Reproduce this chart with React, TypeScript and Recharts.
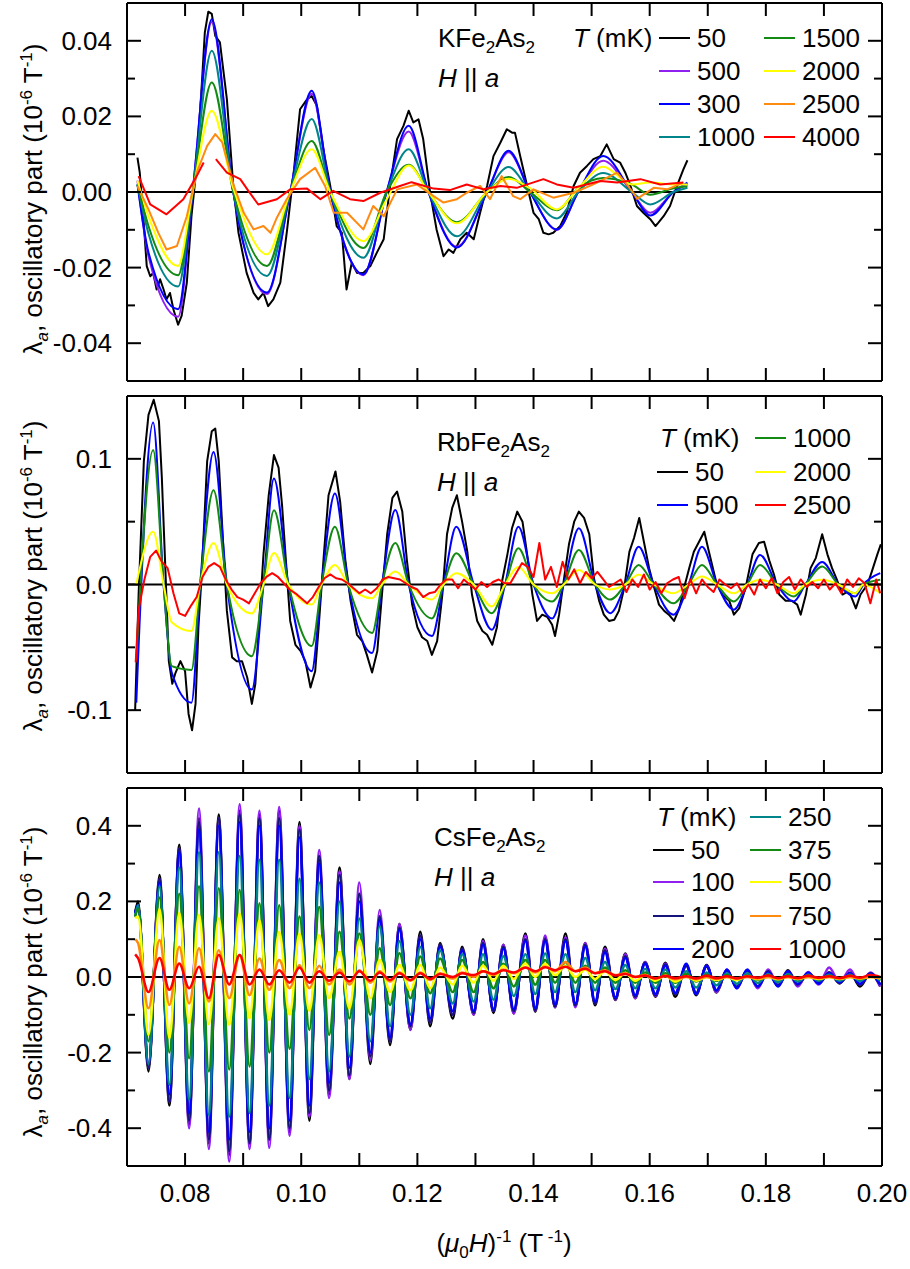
import React from 'react';
import { LineChart, Line, XAxis, YAxis, ReferenceLine } from 'recharts';

const FONT = '"Liberation Sans", Arial, Helvetica, sans-serif';

// shared x axis: (mu0 H)^-1 in 1/T
const xTicks = [0.07, 0.08, 0.09, 0.1, 0.11, 0.12, 0.13, 0.14, 0.15, 0.16, 0.17, 0.18, 0.19, 0.2];
const xLabels = [0.08, 0.1, 0.12, 0.14, 0.16, 0.18, 0.2];

// ---------- KFe2As2 ----------
const kYTicks = [-0.05, -0.04, -0.03, -0.02, -0.01, 0, 0.01, 0.02, 0.03, 0.04, 0.05];
const kYLabels = [-0.04, -0.02, 0, 0.02, 0.04];
const kX = [0.0718, 0.0737, 0.0788, 0.0813, 0.0846, 0.0883, 0.0941, 0.0981, 0.1018, 0.105, 0.1107, 0.1147, 0.1185, 0.1219, 0.1268, 0.132, 0.1357, 0.1394, 0.144, 0.1477, 0.152, 0.1569, 0.1601, 0.1641, 0.1665];
const k50: [number, number][] = [
  [0.0718, 0.0091], [0.0722, 0.0051], [0.0728, -0.0064], [0.0734, -0.0196], [0.074, -0.0223], [0.0745, -0.0214],
  [0.0751, -0.0258], [0.0757, -0.0231], [0.0763, -0.0258], [0.0768, -0.0284], [0.0774, -0.0267], [0.078, -0.0311],
  [0.0788, -0.0351], [0.0794, -0.0328], [0.0803, -0.024], [0.0811, -0.0064], [0.082, 0.0069], [0.0829, 0.029],
  [0.0834, 0.0422], [0.084, 0.0477], [0.0846, 0.0471], [0.0852, 0.0413], [0.086, 0.0396], [0.0872, 0.0245],
  [0.0883, 0.0016], [0.0892, -0.0108], [0.0906, -0.0214], [0.0918, -0.0267], [0.0926, -0.0284], [0.0935, -0.0267],
  [0.0943, -0.0302], [0.0952, -0.0284], [0.0964, -0.024], [0.0975, -0.0108], [0.0987, 0.0051], [0.0998, 0.0219],
  [0.101, 0.0245], [0.1018, 0.0254], [0.1027, 0.0228], [0.1038, 0.0113], [0.105, 0.0016], [0.1061, -0.009],
  [0.107, -0.0108], [0.1078, -0.0258], [0.1087, -0.0187], [0.1096, -0.0214], [0.1107, -0.0214], [0.1119, -0.0196],
  [0.113, -0.0161], [0.1142, -0.0125], [0.1153, 0.0016], [0.1165, 0.014], [0.1176, 0.0175], [0.1185, 0.0215],
  [0.1193, 0.0184], [0.1202, 0.0192], [0.121, 0.014], [0.1222, -0.0002], [0.1233, -0.0099], [0.1245, -0.017],
  [0.1254, -0.0152], [0.1262, -0.0161], [0.1274, -0.0125], [0.1285, -0.0108], [0.1297, -0.0125], [0.1308, -0.0055],
  [0.132, 0.0016], [0.1331, 0.0095], [0.1343, 0.0131], [0.1354, 0.0166], [0.1363, 0.0157], [0.1368, 0.0157],
  [0.1377, 0.0095], [0.1389, 0.0016], [0.14, -0.0055], [0.1409, -0.0072], [0.1417, -0.0108], [0.1426, -0.0112],
  [0.1434, -0.0108], [0.1446, -0.009], [0.1457, -0.0055], [0.1469, 0.0016], [0.148, 0.0051], [0.1492, 0.0069],
  [0.1503, 0.0087], [0.1515, 0.0095], [0.1526, 0.0126], [0.1538, 0.0087], [0.1549, 0.0078], [0.1558, 0.0051],
  [0.1567, 0.0016], [0.1578, -0.0037], [0.1589, -0.0055], [0.1601, -0.0072], [0.161, -0.009], [0.1615, -0.0081],
  [0.1624, -0.0064], [0.1635, -0.0037], [0.1647, 0.0016], [0.1658, 0.006], [0.1665, 0.0084],
];
const k500 = [0.003, -0.017, -0.033, 0, 0.045, 0, -0.027, 0, 0.026, 0, -0.022, 0, 0.016, 0, -0.0145, 0, 0.0105, 0, -0.01, 0, 0.0083, 0, -0.0055, 0, 0.002];
const k300 = [0.002, -0.016, -0.031, 0, 0.0457, 0, -0.0266, 0, 0.0268, 0, -0.0218, 0, 0.0175, 0, -0.0147, 0, 0.0109, 0, -0.0099, 0, 0.0095, 0, -0.0062, 0, 0.0025];
const k1000 = [0.002, -0.011, -0.025, 0, 0.0374, 0, -0.0222, 0, 0.0193, 0, -0.0174, 0, 0.0113, 0, -0.0117, 0, 0.0066, 0, -0.007, 0, 0.005, 0, -0.0033, 0, 0.0011];
const k1500 = [0.002, -0.009, -0.022, 0, 0.029, 0, -0.0196, 0, 0.0135, 0, -0.0148, 0, 0.0072, 0, -0.008, 0, 0.004, 0, -0.0048, 0.001, 0.0037, 0.002, -0.0007, 0.001, 0.0015];
const k2000 = [0.003, -0.0064, -0.0196, 0, 0.0215, 0.001, -0.0165, 0, 0.0113, 0, -0.013, -0.002, 0.007, 0, -0.0083, 0, 0.0035, 0.001, -0.0046, 0.001, 0.0067, 0.002, 0.0025, 0.002, 0.002];
const k2500: [number, number][] = [
  [0.0718, 0.0016], [0.0737, -0.0046], [0.0754, -0.0108], [0.0768, -0.0152], [0.0786, -0.0143], [0.0803, -0.0064],
  [0.082, 0.0051], [0.0838, 0.0122], [0.0852, 0.0153], [0.0864, 0.0131], [0.0884, 0.0016], [0.0901, -0.0055],
  [0.0918, -0.0099], [0.0935, -0.009], [0.0947, -0.0108], [0.0958, -0.0068], [0.0975, -0.0019], [0.0998, 0.0034],
  [0.1024, 0.0064], [0.1041, 0.0016], [0.1056, -0.0055], [0.1079, -0.0055], [0.1107, -0.0099], [0.1124, -0.0037],
  [0.1142, -0.0064], [0.1165, 0.0007], [0.1199, 0.002], [0.1228, -0.0011], [0.1245, -0.0028], [0.1268, -0.0019],
  [0.1285, -0.0002], [0.1308, 0.0016], [0.1325, -0.0019], [0.1345, 0.0042], [0.1365, -0.0011], [0.1377, -0.0019],
  [0.14, 0.0007], [0.1434, -0.0015], [0.1469, -0.0002], [0.1503, 0.002], [0.1544, 0.0051], [0.1572, -0.0002],
  [0.1578, -0.0018], [0.1607, 0.0011], [0.163, 0.0007], [0.1658, 0.0025],
];
const k4000: [number, number | null][] = [
  [0.072, 0.0042], [0.074, -0.0033], [0.0768, -0.0059], [0.0797, -0.0019], [0.082, 0.0042], [0.0832, 0.0078],
  [0.0842, null], [0.0853, 0.0087], [0.0872, 0.0051], [0.0895, 0.0034], [0.0909, 0.0003], [0.0926, -0.0033],
  [0.0958, -0.0019], [0.0981, 0.0007], [0.101, 0.0009], [0.1033, -0.0019], [0.1055, 0.0003], [0.1084, -0.0019],
  [0.1107, -0.0024], [0.1136, -0.0002], [0.117, 0.0016], [0.119, 0.0026], [0.1228, 0.0009], [0.1256, 0.0005],
  [0.1285, 0.002], [0.1314, 0.0007], [0.1343, 0.0016], [0.1371, 0.0011], [0.1417, 0.0034], [0.144, 0.002],
  [0.1469, 0.0011], [0.1515, 0.0029], [0.1544, 0.0025], [0.1584, 0.0034], [0.1618, 0.002], [0.1658, 0.0025],
];

// ---------- RbFe2As2 ----------
const rYTicks = [-0.15, -0.1, -0.05, 0, 0.05, 0.1, 0.15];
const rYLabels = [-0.1, 0, 0.1];
const rX = [0.0716, 0.0745, 0.0763, 0.0777, 0.0811, 0.0826, 0.0849, 0.0872, 0.0915, 0.0935, 0.0953, 0.0978, 0.1018, 0.1035, 0.1058, 0.1081, 0.1122, 0.1139, 0.1162, 0.1185, 0.1225, 0.1245, 0.1267, 0.1297, 0.1328, 0.1351, 0.1374, 0.14, 0.1432, 0.1452, 0.1478, 0.1506, 0.1532, 0.1558, 0.1581, 0.1607, 0.1641, 0.1667, 0.169, 0.1716, 0.1745, 0.1768, 0.179, 0.1819, 0.1848, 0.1868, 0.1897, 0.1925, 0.1954, 0.1968, 0.1997];
const r50: [number, number][] = [
  [0.0714, -0.1], [0.072, -0.008], [0.0729, 0.098], [0.0737, 0.135], [0.0746, 0.147], [0.0755, 0.13], [0.076, 0.085],
  [0.0766, 0.013], [0.0772, -0.061], [0.0778, -0.079], [0.0783, -0.071], [0.0792, -0.061], [0.08, -0.069],
  [0.0806, -0.103], [0.0812, -0.116], [0.0818, -0.095], [0.0823, -0.034], [0.0829, 0.011], [0.0838, 0.098],
  [0.0846, 0.122], [0.0852, 0.124], [0.0858, 0.098], [0.0867, 0.019], [0.0872, -0.021], [0.0881, -0.058],
  [0.0889, -0.061], [0.0898, -0.061], [0.0907, -0.074], [0.0915, -0.095], [0.0921, -0.079], [0.0927, -0.034],
  [0.0935, 0.024], [0.0944, 0.071], [0.0953, 0.103], [0.0961, 0.093], [0.0967, 0.063], [0.0976, 0.003],
  [0.0981, -0.029], [0.099, -0.048], [0.0999, -0.053], [0.1007, -0.061], [0.1016, -0.082], [0.1024, -0.069],
  [0.103, -0.034], [0.1039, 0.024], [0.1047, 0.071], [0.1059, 0.09], [0.1067, 0.066], [0.1076, 0.019],
  [0.1085, -0.013], [0.1096, -0.04], [0.1105, -0.045], [0.1113, -0.056], [0.1122, -0.07], [0.1131, -0.053],
  [0.1139, -0.008], [0.1148, 0.04], [0.1157, 0.069], [0.1165, 0.074], [0.1174, 0.058], [0.1182, 0.019],
  [0.1191, -0.016], [0.12, -0.034], [0.1208, -0.042], [0.1217, -0.045], [0.1225, -0.056], [0.1234, -0.045],
  [0.1243, -0.008], [0.1251, 0.04], [0.126, 0.061], [0.1268, 0.071], [0.1277, 0.05], [0.1286, 0.026],
  [0.1294, -0.008], [0.1303, -0.029], [0.1312, -0.037], [0.132, -0.04], [0.1329, -0.048], [0.1337, -0.034],
  [0.1346, 0.003], [0.1355, 0.024], [0.1363, 0.045], [0.1372, 0.058], [0.1381, 0.05], [0.1389, 0.024],
  [0.1398, -0.008], [0.1406, -0.029], [0.1415, -0.024], [0.1424, -0.026], [0.1432, -0.032], [0.1437, -0.041],
  [0.1444, -0.024], [0.1452, 0.003], [0.1461, 0.032], [0.147, 0.05], [0.1478, 0.058], [0.1487, 0.053],
  [0.1496, 0.04], [0.1504, 0.005], [0.1513, -0.013], [0.1521, -0.024], [0.153, -0.029], [0.1539, -0.028],
  [0.1547, -0.021], [0.1556, -0.003], [0.1565, 0.026], [0.1573, 0.037], [0.1582, 0.053], [0.159, 0.034],
  [0.1599, 0.013], [0.1608, -0.003], [0.1616, -0.016], [0.1625, -0.021], [0.1633, -0.024], [0.1642, -0.029],
  [0.1651, -0.019], [0.1659, -0.003], [0.1668, 0.013], [0.1676, 0.026], [0.1685, 0.034], [0.1694, 0.042],
  [0.1702, 0.026], [0.1714, 0.003], [0.1725, -0.008], [0.1737, -0.013], [0.1745, -0.024], [0.1754, -0.019],
  [0.1765, -0.003], [0.1777, 0.024], [0.1788, 0.033], [0.1797, 0.034], [0.1806, 0.019], [0.1814, 0.008],
  [0.1823, -0.008], [0.1834, -0.013], [0.1845, -0.013], [0.1854, -0.016], [0.186, -0.024], [0.1869, -0.008],
  [0.1877, 0.013], [0.1886, 0.021], [0.1897, 0.04], [0.1906, 0.024], [0.1914, 0.013], [0.1923, 0.003],
  [0.1932, -0.008], [0.1943, -0.005], [0.1955, -0.019], [0.1963, -0.008], [0.1975, 0], [0.1983, 0.011],
  [0.1992, 0.024], [0.1998, 0.032],
];
const r500 = [-0.094, 0.129, 0, -0.07, -0.094, 0, 0.1055, 0, -0.0836, 0, 0.0844, 0, -0.069, 0, 0.0725, 0, -0.0545, 0, 0.0593, 0, -0.041, 0, 0.046, 0, -0.036, 0, 0.046, 0, -0.027, 0, 0.0447, 0, -0.0228, 0, 0.03, 0, -0.024, 0, 0.03, 0, -0.02, 0, 0.0235, 0, -0.0135, 0, 0.018, 0, -0.0095, 0, 0.009];
const r1000 = [-0.06, 0.107, 0, -0.065, -0.068, 0, 0.075, 0, -0.057, 0, 0.059, 0, -0.049, 0, 0.046, 0, -0.0386, 0, 0.033, 0, -0.027, 0, 0.0249, 0, -0.0228, 0, 0.0288, 0, -0.0135, 0, 0.0275, 0, -0.012, 0, 0.0156, 0, -0.015, 0, 0.0156, 0, -0.0135, 0, 0.0156, 0, -0.0095, 0, 0.0143, 0, -0.007, 0, 0.0037];
const r2000 = [0, 0.042, 0, -0.03, -0.037, 0, 0.033, 0, -0.023, 0, 0.025, 0, -0.016, 0, 0.0156, 0, -0.011, 0, 0.0103, 0, -0.012, 0, 0.009, 0, -0.0175, 0, 0.014, 0, -0.007, 0, 0.0116, 0, -0.004, 0, 0.0077, 0, -0.007, 0, 0.0063, 0, -0.007, 0, 0.0037, 0, -0.007, 0, 0.0037, 0, -0.007, 0, -0.007];
const r2500X = [0.0715, 0.072, 0.073, 0.074, 0.075, 0.076, 0.077, 0.078, 0.079, 0.08, 0.081, 0.082, 0.083, 0.084, 0.085, 0.086, 0.087, 0.088, 0.089, 0.09, 0.091, 0.092, 0.093, 0.094, 0.095, 0.096, 0.097, 0.098, 0.099, 0.1, 0.101, 0.102, 0.103, 0.104, 0.105, 0.106, 0.107, 0.108, 0.109, 0.11, 0.111, 0.112, 0.113, 0.114, 0.115, 0.116, 0.117, 0.118, 0.119, 0.12, 0.121, 0.122, 0.123, 0.124, 0.125, 0.126, 0.127, 0.128, 0.129, 0.13, 0.131, 0.132, 0.133, 0.134, 0.135, 0.136, 0.137, 0.138, 0.139, 0.14, 0.141, 0.142, 0.143, 0.144, 0.145, 0.146, 0.147, 0.148, 0.149, 0.15, 0.151, 0.152, 0.153, 0.154, 0.155, 0.156, 0.157, 0.158, 0.159, 0.16, 0.161, 0.162, 0.163, 0.164, 0.165, 0.166, 0.167, 0.168, 0.169, 0.17, 0.171, 0.172, 0.173, 0.174, 0.175, 0.176, 0.177, 0.178, 0.179, 0.18, 0.181, 0.182, 0.183, 0.184, 0.185, 0.186, 0.187, 0.188, 0.189, 0.19, 0.191, 0.192, 0.193, 0.194, 0.195, 0.196, 0.197, 0.198, 0.199, 0.1997];
const r2500 = [-0.062, -0.02, 0.004, 0.022, 0.027, 0.018, 0.013, -0.007, -0.023, -0.025, -0.017, -0.01, 0.006, 0.014, 0.017, 0.014, 0.004, -0.004, -0.01, -0.012, -0.015, -0.007, 0.001, 0.006, 0.009, 0.006, 0.001, -0.004, -0.007, -0.011, -0.015, -0.01, -0.002, 0.005, 0.008, 0.005, 0.004, 0.001, -0.003, -0.007, -0.004, -0.007, -0.003, 0.004, 0.006, 0.005, 0.004, 0.001, -0.002, -0.004, -0.01, -0.007, -0.006, 0, 0.004, 0.004, -0.003, 0.004, 0, -0.004, 0.002, -0.002, 0.002, 0.004, 0.001, 0.001, 0.009, 0.017, 0.014, 0.006, 0.033, 0.004, 0.014, -0.002, 0.018, 0.004, 0.012, 0.001, 0.01, 0.005, 0.01, 0.004, -0.002, 0.001, 0.004, -0.006, 0.004, -0.002, 0.008, -0.004, 0.002, -0.007, 0.001, 0.004, 0.006, -0.011, 0.004, -0.007, 0.004, -0.002, -0.006, 0.004, 0, -0.003, 0.001, -0.007, 0, -0.008, 0.004, -0.003, 0.005, -0.007, 0.002, 0.006, -0.004, 0.004, -0.002, 0.002, -0.003, 0.004, -0.004, 0.001, -0.007, 0.004, -0.002, 0.005, 0.001, -0.015, 0.004, -0.007];

// ---------- CsFe2As2 ----------
const cYTicks = [-0.5, -0.4, -0.3, -0.2, -0.1, 0, 0.1, 0.2, 0.3, 0.4, 0.5];
const cYLabels = [-0.4, -0.2, 0, 0.2, 0.4];
const cX = [0.0714, 0.0719, 0.0737, 0.0756, 0.0773, 0.079, 0.0807, 0.0824, 0.0841, 0.0858, 0.0876, 0.0894, 0.0911, 0.0928, 0.0945, 0.0962, 0.098, 0.0997, 0.1014, 0.1031, 0.1048, 0.1066, 0.1083, 0.11, 0.1119, 0.1135, 0.1153, 0.1169, 0.1188, 0.1205, 0.1222, 0.1239, 0.1261, 0.1277, 0.1297, 0.1313, 0.1331, 0.1348, 0.1366, 0.1386, 0.1403, 0.142, 0.1437, 0.1455, 0.1472, 0.1489, 0.1506, 0.1523, 0.1541, 0.1558, 0.1575, 0.1592, 0.161, 0.1627, 0.1644, 0.1663, 0.168, 0.1698, 0.1715, 0.1733, 0.175, 0.1768, 0.1786, 0.1804, 0.1821, 0.1838, 0.1855, 0.1873, 0.1891, 0.1909, 0.1927, 0.1945, 0.1962, 0.198, 0.1997];
const c50 = [0.17, 0.2, -0.25, 0.27, -0.34, 0.35, -0.39, 0.42, -0.44, 0.43, -0.47, 0.44, -0.44, 0.43, -0.43, 0.44, -0.41, 0.41, -0.38, 0.31, -0.31, 0.29, -0.27, 0.22, -0.23, 0.16, -0.18, 0.14, -0.14, 0.12, -0.13, 0.09, -0.11, 0.08, -0.1, 0.1, -0.095, 0.085, -0.096, 0.115, -0.092, 0.105, -0.08, 0.115, -0.078, 0.09, -0.075, 0.08, -0.061, 0.062, -0.056, 0.04, -0.052, 0.038, -0.052, 0.032, -0.048, 0.032, -0.041, 0.018, -0.027, 0.018, -0.027, 0.016, -0.024, 0.018, -0.021, 0.011, -0.015, 0.012, -0.017, 0.012, -0.025, 0.01, -0.025];
const c100 = [0.16, 0.19, -0.24, 0.26, -0.33, 0.34, -0.4, 0.446, -0.455, 0.42, -0.488, 0.457, -0.455, 0.44, -0.452, 0.45, -0.42, 0.4, -0.37, 0.336, -0.32, 0.28, -0.27, 0.25, -0.22, 0.177, -0.17, 0.14, -0.14, 0.11, -0.12, 0.085, -0.1, 0.075, -0.1, 0.095, -0.09, 0.085, -0.097, 0.11, -0.09, 0.11, -0.08, 0.105, -0.08, 0.09, -0.07, 0.075, -0.06, 0.06, -0.056, 0.04, -0.05, 0.035, -0.045, 0.03, -0.045, 0.03, -0.04, 0.02, -0.03, 0.018, -0.03, 0.02, -0.02, 0.015, -0.025, 0.013, -0.02, 0.025, -0.015, 0.02, -0.02, 0.012, -0.025];
const c150 = [0.17, 0.19, -0.24, 0.26, -0.33, 0.34, -0.38, 0.41, -0.43, 0.42, -0.46, 0.43, -0.44, 0.42, -0.43, 0.42, -0.4, 0.39, -0.36, 0.32, -0.3, 0.27, -0.26, 0.22, -0.21, 0.16, -0.17, 0.13, -0.13, 0.11, -0.12, 0.085, -0.1, 0.075, -0.095, 0.09, -0.09, 0.08, -0.09, 0.1, -0.088, 0.1, -0.078, 0.1, -0.075, 0.085, -0.07, 0.07, -0.058, 0.055, -0.052, 0.038, -0.048, 0.033, -0.045, 0.03, -0.042, 0.028, -0.036, 0.017, -0.026, 0.017, -0.025, 0.015, -0.022, 0.014, -0.02, 0.01, -0.016, 0.012, -0.015, 0.01, -0.02, 0.01, -0.02];
const c200 = [0.17, 0.19, -0.23, 0.25, -0.31, 0.33, -0.36, 0.39, -0.41, 0.4, -0.43, 0.41, -0.41, 0.4, -0.4, 0.4, -0.38, 0.37, -0.34, 0.3, -0.28, 0.25, -0.24, 0.2, -0.2, 0.15, -0.16, 0.125, -0.125, 0.1, -0.11, 0.08, -0.09, 0.07, -0.09, 0.085, -0.085, 0.075, -0.085, 0.095, -0.082, 0.095, -0.072, 0.095, -0.07, 0.08, -0.065, 0.065, -0.054, 0.05, -0.048, 0.035, -0.045, 0.03, -0.042, 0.035, -0.045, 0.03, -0.035, 0.02, -0.03, 0.02, -0.025, 0.012, -0.025, 0.015, -0.018, 0.012, -0.018, 0.01, -0.014, 0.01, -0.018, 0.008, -0.02];
const c250 = [0.16, 0.19, -0.23, 0.24, -0.285, 0.29, -0.325, 0.33, -0.365, 0.33, -0.37, 0.32, -0.36, 0.31, -0.34, 0.31, -0.32, 0.26, -0.27, 0.25, -0.25, 0.2, -0.21, 0.155, -0.17, 0.135, -0.13, 0.095, -0.1, 0.08, -0.083, 0.07, -0.07, 0.06, -0.065, 0.06, -0.06, 0.055, -0.05, 0.06, -0.045, 0.062, -0.04, 0.06, -0.04, 0.05, -0.035, 0.04, -0.032, 0.032, -0.03, 0.022, -0.03, 0.02, -0.028, 0.015, -0.028, 0.012, -0.022, 0.01, -0.018, 0.01, -0.016, 0.008, -0.014, 0.008, -0.012, 0.006, -0.01, 0.006, -0.01, 0.006, -0.01, 0.005, -0.01];
const c375 = [0.16, 0.18, -0.17, 0.21, -0.2, 0.22, -0.215, 0.24, -0.25, 0.235, -0.245, 0.23, -0.237, 0.195, -0.2, 0.19, -0.19, 0.16, -0.14, 0.185, -0.153, 0.12, -0.11, 0.115, -0.1, 0.076, -0.074, 0.063, -0.056, 0.054, -0.043, 0.049, -0.04, 0.045, -0.04, 0.04, -0.03, 0.035, -0.025, 0.045, -0.02, 0.045, -0.015, 0.04, -0.015, 0.03, -0.015, 0.025, -0.015, 0.018, -0.015, 0.012, -0.015, 0.01, -0.015, 0.008, -0.012, 0.006, -0.01, 0.005, -0.008, 0.004, -0.008, 0.004, -0.007, 0.004, -0.006, 0.003, -0.006, 0.003, -0.005, 0.003, -0.005, 0.003, -0.005];
const c500 = [0.155, 0.16, -0.153, 0.18, -0.162, 0.17, -0.122, 0.164, -0.125, 0.155, -0.127, 0.168, -0.11, 0.15, -0.114, 0.12, -0.1, 0.115, -0.09, 0.111, -0.056, 0.067, -0.083, 0.098, -0.056, 0.045, -0.04, 0.032, -0.035, 0.032, -0.03, 0.025, -0.02, 0.03, -0.015, 0.03, -0.01, 0.03, -0.005, 0.036, 0, 0.035, 0.005, 0.03, 0, 0.02, -0.005, 0.015, -0.008, 0.01, -0.01, 0.005, -0.01, 0.004, -0.012, 0.002, -0.01, 0, -0.008, 0, -0.008, 0.002, -0.006, 0, -0.006, 0, -0.005, 0, -0.005, 0, -0.005, 0, -0.004, 0, -0.004];
const c750 = [0.1, 0.09, -0.083, 0.098, -0.074, 0.08, -0.07, 0.076, -0.065, 0.071, -0.056, 0.058, -0.048, 0.049, -0.034, 0.045, -0.03, 0.032, -0.03, 0.03, -0.02, 0.02, -0.02, 0.018, -0.015, 0.015, -0.012, 0.012, -0.01, 0.012, -0.008, 0.01, -0.004, 0.012, 0, 0.015, 0.005, 0.02, 0.01, 0.025, 0.012, 0.028, 0.015, 0.04, 0.015, 0.025, 0.01, 0.018, 0.005, 0.01, 0, 0.005, -0.004, 0.002, -0.006, 0, -0.006, 0, -0.005, 0, -0.004, 0, -0.004, 0, -0.004, 0, -0.003, 0, -0.003, 0, -0.003, 0, -0.003, 0, -0.003];
const c1000 = [0.06, 0.05, -0.04, 0.05, -0.034, 0.036, -0.03, 0.027, -0.056, 0.058, -0.02, 0.058, -0.02, 0.02, -0.02, 0.018, -0.015, 0.025, -0.015, 0.015, -0.01, 0.012, -0.012, 0.015, -0.01, 0.012, -0.008, 0.01, -0.008, 0.01, -0.005, 0.008, 0, 0.01, 0.005, 0.015, 0.008, 0.018, 0.012, 0.025, 0.015, 0.026, 0.018, 0.027, 0.015, 0.022, 0.01, 0.015, 0.004, 0.008, 0, 0.004, -0.004, 0.003, -0.003, 0.002, -0.004, 0.003, -0.003, 0.002, -0.004, 0.002, -0.002, 0.004, -0.003, 0.002, -0.003, 0.003, -0.002, 0.002, -0.003, 0.003, -0.002, 0.005, 0];

const COL = {
  black: '#000000',
  purple: '#9020f0',
  navy: '#14147a',
  blue: '#0000ff',
  teal: '#00858a',
  green: '#138a13',
  yellow: '#ffff00',
  orange: '#ff8a10',
  red: '#ff0000',
};

type Pt = { x: number; v: number | null };
type Series = { name: string; color: string; data: Pt[]; curve: 'monotone' | 'linear' };

const pts = (xs: number[], vs: (number | null)[]): Pt[] => xs.map((x, i) => ({ x, v: vs[i] }));
const pairs = (ps: [number, number | null][]): Pt[] => ps.map(([x, v]) => ({ x, v }));

const kSeries: Series[] = [
  { name: '50', color: COL.black, data: pairs(k50), curve: 'linear' },
  { name: '500', color: COL.purple, data: pts(kX, k500), curve: 'monotone' },
  { name: '300', color: COL.blue, data: pts(kX, k300), curve: 'monotone' },
  { name: '1000', color: COL.teal, data: pts(kX, k1000), curve: 'monotone' },
  { name: '1500', color: COL.green, data: pts(kX, k1500), curve: 'monotone' },
  { name: '2000', color: COL.yellow, data: pts(kX, k2000), curve: 'monotone' },
  { name: '2500', color: COL.orange, data: pairs(k2500), curve: 'linear' },
  { name: '4000', color: COL.red, data: pairs(k4000), curve: 'linear' },
];

const rSeries: Series[] = [
  { name: '50', color: COL.black, data: pairs(r50), curve: 'linear' },
  { name: '500', color: COL.blue, data: pts(rX, r500), curve: 'monotone' },
  { name: '1000', color: COL.green, data: pts(rX, r1000), curve: 'monotone' },
  { name: '2000', color: COL.yellow, data: pts(rX, r2000), curve: 'monotone' },
  { name: '2500', color: COL.red, data: pts(r2500X, r2500), curve: 'linear' },
];

const cSeries: Series[] = [
  { name: '50', color: COL.black, data: pts(cX, c50), curve: 'monotone' },
  { name: '100', color: COL.purple, data: pts(cX, c100), curve: 'monotone' },
  { name: '150', color: COL.navy, data: pts(cX, c150), curve: 'monotone' },
  { name: '200', color: COL.blue, data: pts(cX, c200), curve: 'monotone' },
  { name: '250', color: COL.teal, data: pts(cX, c250), curve: 'monotone' },
  { name: '375', color: COL.green, data: pts(cX, c375), curve: 'monotone' },
  { name: '500', color: COL.yellow, data: pts(cX, c500), curve: 'monotone' },
  { name: '750', color: COL.orange, data: pts(cX, c750), curve: 'monotone' },
  { name: '1000', color: COL.red, data: pts(cX, c1000), curve: 'monotone' },
];

const isIn = (arr: number[], v: number) => arr.some((a) => Math.abs(a - v) < 1e-9);
const axisLine = { stroke: '#000', strokeWidth: 2 };

function LeftTick(props: any) {
  const { x, y, payload, labels, digits } = props;
  const major = isIn(labels, payload.value);
  return (
    <g>
      <line x1={x} x2={x + (major ? 14 : 8)} y1={y} y2={y} stroke="#000" strokeWidth={2} />
      {major ? (
        <text x={x - 15} y={y + 9} textAnchor="end" fontSize={26} fontFamily={FONT} fill="#000">
          {payload.value.toFixed(digits)}
        </text>
      ) : null}
    </g>
  );
}

function RightTick(props: any) {
  const { x, y, payload, labels } = props;
  const major = isIn(labels, payload.value);
  return <line x1={x} x2={x - (major ? 14 : 8)} y1={y} y2={y} stroke="#000" strokeWidth={2} />;
}

function BottomTick(props: any) {
  const { x, y, payload, show } = props;
  const major = isIn(xLabels, payload.value);
  return (
    <g>
      <line x1={x} x2={x} y1={y} y2={y - 13} stroke="#000" strokeWidth={2} />
      {show && major ? (
        <text x={x} y={y + 36} textAnchor="middle" fontSize={26} fontFamily={FONT} fill="#000">
          {payload.value.toFixed(2)}
        </text>
      ) : null}
    </g>
  );
}

function TopTick(props: any) {
  const { x, y } = props;
  return <line x1={x} x2={x} y1={y} y2={y + 13} stroke="#000" strokeWidth={2} />;
}

function Panel(p: {
  top: number;
  height: number;
  marginTop: number;
  bottomH: number;
  yDomain: [number, number];
  yTicks: number[];
  yLabels: number[];
  digits: number;
  showX: boolean;
  series: Series[];
  sw: number;
}) {
  return (
    <div style={{ position: 'absolute', left: 0, top: p.top }}>
      <LineChart width={910} height={p.height} margin={{ top: p.marginTop, right: 0, bottom: 0, left: 0 }}>
        <XAxis
          xAxisId="b"
          type="number"
          dataKey="x"
          domain={[0.07, 0.2]}
          ticks={xTicks}
          allowDataOverflow
          interval={0}
          height={p.bottomH}
          tickSize={0}
          tickMargin={0}
          tickLine={false}
          axisLine={axisLine}
          tick={(t: any) => <BottomTick {...t} show={p.showX} />}
        />
        <XAxis
          xAxisId="t"
          orientation="top"
          type="number"
          dataKey="x"
          domain={[0.07, 0.2]}
          ticks={xTicks}
          allowDataOverflow
          interval={0}
          height={1}
          tickSize={0}
          tickMargin={0}
          tickLine={false}
          axisLine={axisLine}
          tick={(t: any) => <TopTick {...t} />}
        />
        <YAxis
          yAxisId="l"
          type="number"
          domain={p.yDomain}
          ticks={p.yTicks}
          allowDataOverflow
          interval={0}
          width={127}
          tickSize={0}
          tickMargin={0}
          tickLine={false}
          axisLine={axisLine}
          tick={(t: any) => <LeftTick {...t} labels={p.yLabels} digits={p.digits} />}
        />
        <YAxis
          yAxisId="r"
          orientation="right"
          type="number"
          domain={p.yDomain}
          ticks={p.yTicks}
          allowDataOverflow
          interval={0}
          width={28}
          tickSize={0}
          tickMargin={0}
          tickLine={false}
          axisLine={axisLine}
          tick={(t: any) => <RightTick {...t} labels={p.yLabels} />}
        />
        <ReferenceLine xAxisId="b" yAxisId="l" y={0} stroke="#000" strokeWidth={2} />
        {p.series.map((s) => (
          <Line
            key={s.name}
            xAxisId="b"
            yAxisId="l"
            data={s.data}
            dataKey="v"
            type={s.curve}
            stroke={s.color}
            strokeWidth={p.sw}
            strokeLinejoin="round"
            dot={false}
            activeDot={false}
            isAnimationActive={false}
          />
        ))}
      </LineChart>
    </div>
  );
}

const sub: React.CSSProperties = { fontSize: 17, position: 'relative', top: 6, verticalAlign: 'baseline', lineHeight: 0 };
const sup: React.CSSProperties = { fontSize: 17, position: 'relative', top: -10, verticalAlign: 'baseline', lineHeight: 0 };

function Txt({ x, cy, children }: { x: number; cy: number; children: React.ReactNode }) {
  return (
    <div style={{ position: 'absolute', left: x, top: cy - 15, height: 30, lineHeight: '30px', fontSize: 26, whiteSpace: 'nowrap' }}>
      {children}
    </div>
  );
}

function Item({ x, cy, color, label }: { x: number; cy: number; color: string; label: string }) {
  return (
    <div style={{ position: 'absolute', left: x, top: cy - 15, height: 30, display: 'flex', alignItems: 'center', fontSize: 26, whiteSpace: 'nowrap' }}>
      <span style={{ display: 'inline-block', width: 31, height: 2, background: color }} />
      <span style={{ marginLeft: 7, lineHeight: '30px' }}>{label}</span>
    </div>
  );
}

function Legend({ series, hx, hy, cols }: { series: Series[]; hx: number; hy: number; cols: { x: number; rows: number[]; names: string[] }[] }) {
  const colorOf = (n: string) => (series.find((s) => s.name === n) as Series).color;
  return (
    <>
      <Txt x={hx} cy={hy}>
        <i>T</i> (mK)
      </Txt>
      {cols.map((c) => c.names.map((n, i) => <Item key={c.x + n} x={c.x} cy={c.rows[i]} color={colorOf(n)} label={n} />))}
    </>
  );
}

function Compound({ x, cy, el }: { x: number; cy: number; el: string }) {
  return (
    <>
      <Txt x={x} cy={cy}>
        {el}Fe<span style={sub}>2</span>As<span style={sub}>2</span>
      </Txt>
      <Txt x={x} cy={cy + 40}>
        <i>H</i> || <i>a</i>
      </Txt>
    </>
  );
}

function YTitle({ cy }: { cy: number }) {
  return (
    <div
      style={{
        position: 'absolute',
        left: 33,
        top: cy,
        transform: 'translate(-50%, -50%) rotate(-90deg)',
        whiteSpace: 'nowrap',
        fontSize: 26,
        lineHeight: '30px',
      }}
    >
      λ<span style={{ ...sub, fontStyle: 'italic' }}>a</span>, oscillatory part (10<span style={sup}>-6</span> T<span style={sup}>-1</span>)
    </div>
  );
}

export default function App() {
  return (
    <div style={{ position: 'absolute', left: 0, top: 0, width: 910, height: 1269, background: '#fff', fontFamily: FONT, color: '#000', overflow: 'hidden' }}>
      <Panel top={0} height={390} marginTop={2} bottomH={9} yDomain={[-0.05, 0.05]} yTicks={kYTicks} yLabels={kYLabels} digits={2} showX={false} series={kSeries} sw={2} />
      <Panel top={390} height={393} marginTop={5} bottomH={10} yDomain={[-0.15, 0.15]} yTicks={rYTicks} yLabels={rYLabels} digits={1} showX={false} series={rSeries} sw={2} />
      <Panel top={783} height={486} marginTop={4} bottomH={103} yDomain={[-0.5, 0.5]} yTicks={cYTicks} yLabels={cYLabels} digits={1} showX={true} series={cSeries} sw={2.5} />

      <YTitle cy={199} />
      <YTitle cy={576} />
      <YTitle cy={982} />

      <Compound x={438} cy={38} el="K" />
      <Compound x={437} cy={442} el="Rb" />
      <Compound x={434} cy={837} el="Cs" />

      <Legend
        series={kSeries}
        hx={573}
        hy={38}
        cols={[
          { x: 659, rows: [38, 71, 104, 137], names: ['50', '500', '300', '1000'] },
          { x: 764, rows: [38, 71, 104, 137], names: ['1500', '2000', '2500', '4000'] },
        ]}
      />
      <Legend
        series={rSeries}
        hx={660}
        hy={438}
        cols={[
          { x: 657, rows: [472, 505], names: ['50', '500'] },
          { x: 755, rows: [438, 472, 505], names: ['1000', '2000', '2500'] },
        ]}
      />
      <Legend
        series={cSeries}
        hx={657}
        hy={817}
        cols={[
          { x: 653, rows: [850, 882, 916, 949], names: ['50', '100', '150', '200'] },
          { x: 750, rows: [817, 850, 882, 916, 949], names: ['250', '375', '500', '750', '1000'] },
        ]}
      />

      <div style={{ position: 'absolute', left: 504, top: 1243, transform: 'translate(-50%, -50%)', fontSize: 26, whiteSpace: 'nowrap', lineHeight: '30px' }}>
        (<i>μ</i>
        <span style={sub}>0</span>
        <i>H</i>)<span style={sup}>-1</span> (T<span style={sup}> -1</span>)
      </div>
    </div>
  );
}
